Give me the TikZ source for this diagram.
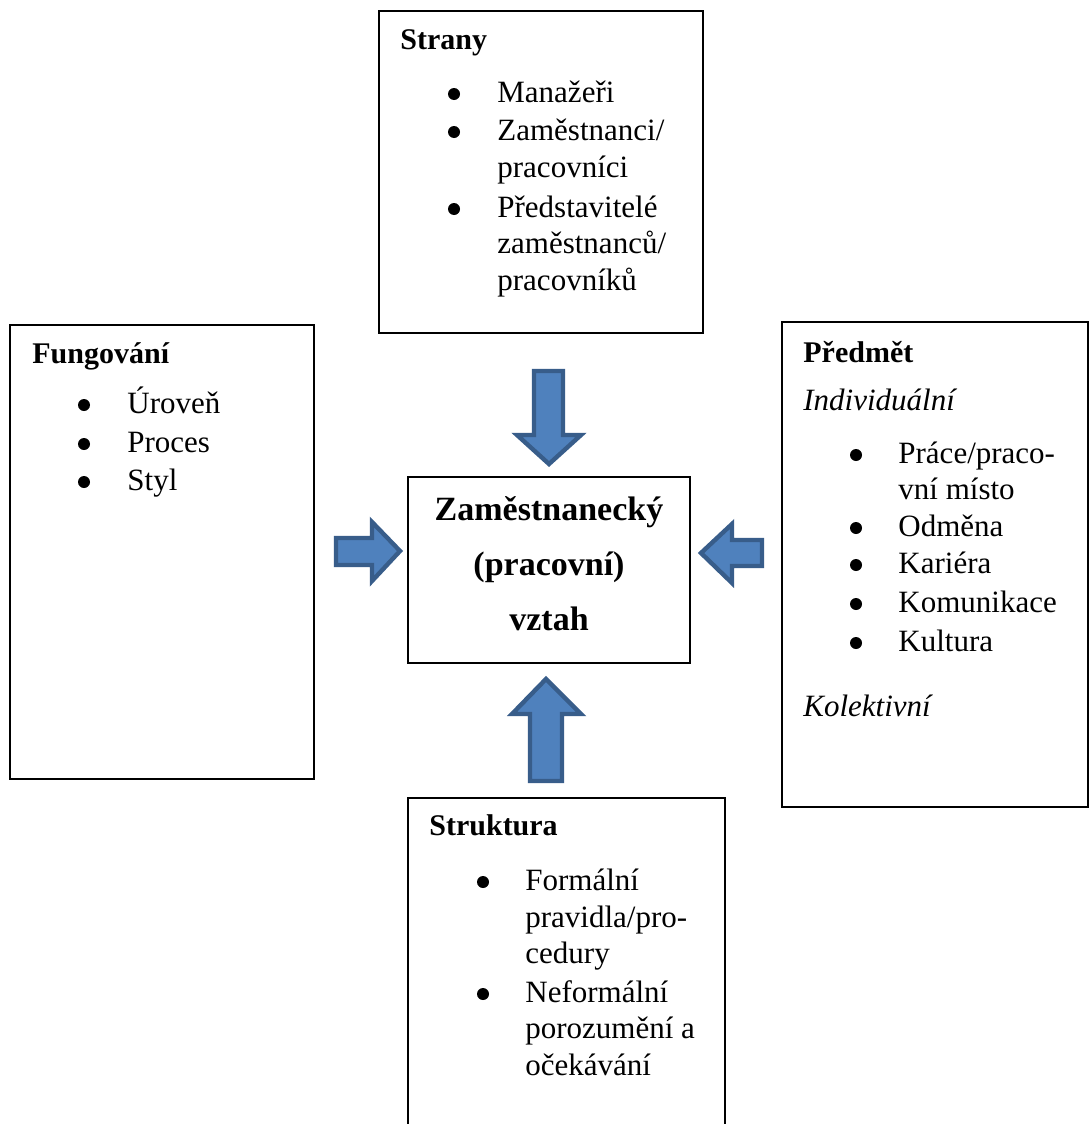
\documentclass[tikz,border=0pt]{standalone}
\usepackage{fontspec}
\setmainfont{Liberation Serif}
\definecolor{arrfill}{HTML}{4F81BD}
\definecolor{arrline}{HTML}{385D8A}
\begin{document}
\begin{tikzpicture}[x=0.5pt,y=-0.5pt,
  box/.style={draw=black,line width=1pt},
  blockarrow/.style={fill=arrfill,draw=arrline,line width=2.2pt,line join=miter},
  txt/.style={anchor=base west,inner sep=0pt,font=\fontsize{15.5}{18}\selectfont},
  ttl/.style={anchor=base west,inner sep=0pt,font=\fontsize{15}{18}\selectfont\bfseries},
  ital/.style={anchor=base west,inner sep=0pt,font=\fontsize{15.5}{18}\selectfont\itshape},
  ctr/.style={anchor=base,inner sep=0pt,font=\fontsize{17}{20}\selectfont\bfseries},
  bul/.style={circle,fill=black,inner sep=0pt,minimum size=6pt}]

\useasboundingbox[fill=white] (0,0) rectangle (1089,1124);

% boxes
\draw[box] (379,11) rectangle (703,333);
\draw[box] (10,325) rectangle (314,779);
\draw[box] (782,322) rectangle (1088,807);
\draw[box] (408,477) rectangle (690,663);
\draw[box] (408,798) rectangle (725,1140);

% block arrows
\draw[blockarrow] (534,371) -- (563,371) -- (563,435) -- (581,435) -- (549,464) -- (517,435) -- (534,435) -- cycle;
\draw[blockarrow] (336,538) -- (372,538) -- (372,522) -- (400,551) -- (372,581) -- (372,565) -- (336,565) -- cycle;
\draw[blockarrow] (762,540) -- (732,540) -- (732,524) -- (701,553) -- (732,583) -- (732,566) -- (762,566) -- cycle;
\draw[blockarrow] (530,781) -- (530,714) -- (512,714) -- (546,679) -- (581,714) -- (562,714) -- (562,781) -- cycle;

% Strany
\node[ttl] (strany) at (400,49) {Strany};
\node[bul] (sb1) at (454,94) {};
\node[bul] (sb2) at (454,132) {};
\node[bul] (sb3) at (454,209) {};
\node[txt] (s1) at (497,102) {Manažeři};
\node[txt] (s2) at (497,140) {Zaměstnanci/};
\node[txt] (s3) at (497,177) {pracovníci};
\node[txt] (s4) at (497,217) {Představitelé};
\node[txt] (s5) at (497,253) {zaměstnanců/};
\node[txt] (s6) at (497,290) {pracovníků};

% Fungovani
\node[ttl] (fung) at (32,363) {Fungování};
\node[bul] (fb1) at (84,405) {};
\node[bul] (fb2) at (84,444) {};
\node[bul] (fb3) at (84,482) {};
\node[txt] (f1) at (127,413) {Úroveň};
\node[txt] (f2) at (127,452) {Proces};
\node[txt] (f3) at (127,490) {Styl};

% Predmet
\node[ttl] (pred) at (803,362) {Předmět};
\node[ital] (indiv) at (803,410) {Individuální};
\node[bul] (pb1) at (856,455) {};
\node[bul] (pb2) at (856,528) {};
\node[bul] (pb3) at (856,565) {};
\node[bul] (pb4) at (856,604) {};
\node[bul] (pb5) at (856,643) {};
\node[txt] (p1) at (898,463) {Práce/praco-};
\node[txt] (p2) at (898,499) {vní místo};
\node[txt] (p3) at (898,536) {Odměna};
\node[txt] (p4) at (898,573) {Kariéra};
\node[txt] (p5) at (898,612) {Komunikace};
\node[txt] (p6) at (898,651) {Kultura};
\node[ital] (kolekt) at (803,716) {Kolektivní};

% Struktura
\node[ttl] (strukt) at (429,835) {Struktura};
\node[bul] (tb1) at (483,882) {};
\node[bul] (tb2) at (483,994) {};
\node[txt] (t1) at (525,890) {Formální};
\node[txt] (t2) at (525,927) {pravidla/pro-};
\node[txt] (t3) at (525,963) {cedury};
\node[txt] (t4) at (525,1002) {Neformální};
\node[txt] (t5) at (525,1038) {porozumění a};
\node[txt] (t6) at (525,1075) {očekávání};

% Center
\node[ctr] (c1) at (549,520) {Zaměstnanecký};
\node[ctr] (c2) at (549,575) {(pracovní)};
\node[ctr] (c3) at (549,630) {vztah};
\end{tikzpicture}
\end{document}
